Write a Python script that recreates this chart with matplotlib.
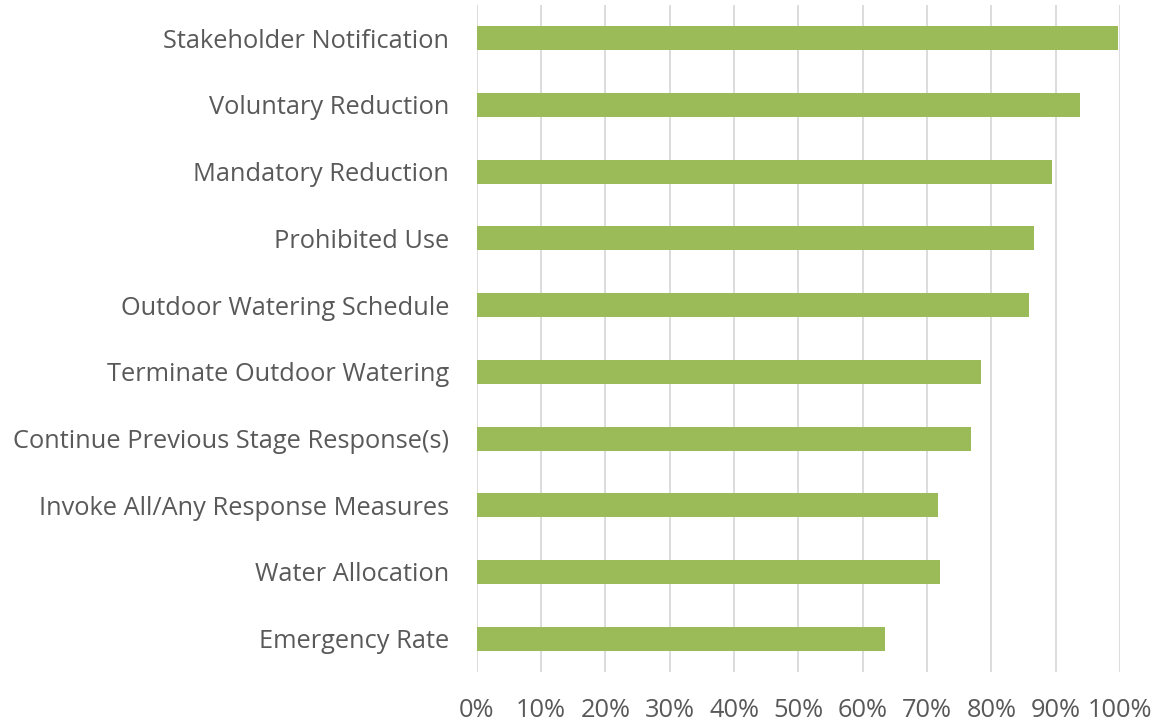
import numpy as np
import matplotlib.pyplot as plt

# measures, bottom to top
labels = ["Emergency Rate", "Water Allocation", "Invoke All/Any Response Measures",
          "Continue Previous Stage Response(s)", "Terminate Outdoor Watering",
          "Outdoor Watering Schedule", "Prohibited Use", "Mandatory Reduction",
          "Voluntary Reduction", "Stakeholder Notification"]
pct = [63.5, 72.0, 71.7, 76.8, 78.4, 85.8, 86.6, 89.4, 93.8, 99.7]
xticks = list(range(0, 101, 10))

plt.rcParams['font.family'] = ['Open Sans', 'DejaVu Sans']

fig = plt.figure(figsize=(11.63, 7.27), dpi=100)
ax = fig.add_axes([0.410, 0.0757, 0.553, 0.9175])

y = np.arange(len(labels))
ax.barh(y, pct, height=0.36, color='#9BBB59', zorder=3)

ax.set_xlim(0, 100)
ax.set_ylim(-0.5, len(labels) - 0.5)
ax.set_xticks(xticks)
ax.set_xticklabels([f"{t}%" for t in xticks])
ax.set_yticks(y)
ax.set_yticklabels(labels)

ax.grid(axis='x', color='#d9d9d9', linewidth=1.3, zorder=0)
for s in ax.spines.values():
    s.set_visible(False)
ax.tick_params(axis='both', length=0, labelsize=18.3, colors='#595959')
ax.tick_params(axis='x', pad=19)
ax.tick_params(axis='y', pad=20)

fig.savefig('out.png', dpi=100)
